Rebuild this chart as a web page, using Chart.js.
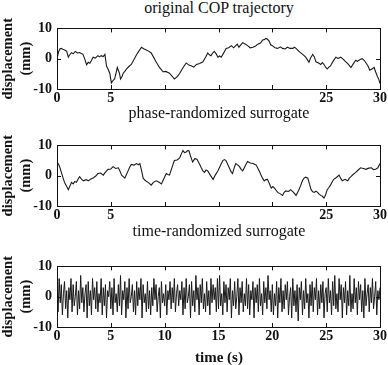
<!DOCTYPE html>
<html>
<head>
<meta charset="utf-8">
<script src="https://cdn.jsdelivr.net/npm/chart.js@4.4.1/dist/chart.umd.min.js"></script>
<style>
    body { margin: 0; background: #fff; width: 388px; height: 365px; position: relative; overflow: hidden; font-family: "Liberation Serif", serif; color: #111; }
    .panel { position: absolute; left: 0; width: 388px; height: 90px; }
    .title { position: absolute; left: 57px; width: 324px; text-align: center; font-size: 16px; line-height: 16px; }
</style>
</head>
<body>
<div class="title" style="top:0px">original COP trajectory</div>
<div class="panel" style="top:15px"><canvas id="c1" width="388" height="90"></canvas></div>
<div class="title" style="top:105px">phase-randomized surrogate</div>
<div class="panel" style="top:132px"><canvas id="c2" width="388" height="90"></canvas></div>
<div class="title" style="top:223px">time-randomized surrogate</div>
<div class="panel" style="top:253px"><canvas id="c3" width="388" height="90"></canvas></div>
<div class="title" style="top:349px;font-weight:bold;font-size:15px">time (s)</div>
<script>
// ---- data ----
const xTicks = [0, 5, 10, 15, 20, 25, 30]
const xLabelsTop = ['0', '5', '', '', '', '25', '30']
const xLabelsAll = ['0', '5', '10', '15', '20', '25', '30']
const yTicks = [-10, 0, 10]

// original COP trajectory (s, mm)
const origT = [0, 0.14, 0.28, 0.4, 0.6, 0.75, 0.9, 1.05, 1.2, 1.35, 1.5, 1.7, 1.9, 2.1, 2.25, 2.4, 2.55, 2.75, 2.9, 3.05, 3.2, 3.35, 3.55, 3.8, 3.95, 4.1, 4.3, 4.45, 4.6, 4.75, 4.9, 5.05, 5.2, 5.35, 5.5, 5.6, 5.8, 5.9, 6.05, 6.15, 6.3, 6.45, 6.7, 6.9, 7.15, 7.4, 7.6, 7.85, 8.05, 8.3, 8.5, 8.75, 8.95, 9.2, 9.5, 9.85, 10.1, 10.45, 10.7, 10.9, 11.15, 11.4, 11.7, 12, 12.25, 12.5, 12.7, 12.95, 13.25, 13.55, 13.8, 14, 14.15, 14.3, 14.45, 14.6, 14.8, 14.95, 15.1, 15.25, 15.5, 15.7, 15.95, 16.2, 16.4, 16.6, 16.75, 16.9, 17.05, 17.25, 17.5, 17.7, 17.95, 18.2, 18.45, 18.65, 18.9, 19.1, 19.25, 19.4, 19.55, 19.7, 19.85, 20, 20.25, 20.5, 20.75, 20.95, 21.2, 21.4, 21.65, 21.9, 22.05, 22.2, 22.45, 22.65, 22.9, 23.1, 23.25, 23.4, 23.55, 23.75, 23.9, 24.05, 24.3, 24.5, 24.65, 24.8, 24.95, 25.1, 25.25, 25.4, 25.65, 25.9, 26.1, 26.35, 26.6, 26.8, 27.05, 27.3, 27.5, 27.75, 27.9, 28.05, 28.2, 28.35, 28.55, 28.7, 28.9, 29.05, 29.25, 29.45, 29.6, 29.75, 29.9, 30]
const origY = [0, 2.2, 3.3, 3.4, 3.0, 2.8, 2.4, 0.5, 1.4, 2, 1.6, 2.4, 1.9, 2, 1.7, 1.5, 0.2, -2, -1.2, -1.5, -0.6, 0.5, 0.2, 1, 0.6, 1, 0.7, 1.4, -2.4, -3.5, -4.8, -8, -7.2, -6.7, -4.5, -2.9, -4.8, -6.7, -5.8, -4.8, -4.2, -3.4, -2.5, -1.9, -0.3, 1.4, 2.5, 3.8, 3.3, 2.9, 2.5, 1.9, 0.6, -1, -2.8, -4.3, -4.2, -4.8, -5.8, -6.7, -6, -4.8, -3, -1.4, -2.1, -2.4, -2.8, -1.9, -1.6, -1, 0.5, 1.9, 1.3, 1, 1.8, 2.4, 1.5, 0.5, 0.9, 0.5, 2, 3.4, 3.6, 4.3, 3.6, 4.3, 4.8, 3.8, 4.5, 5.3, 4.8, 4.3, 3.6, 3.8, 4.2, 4.8, 5.2, 6.2, 6.3, 6.7, 6.4, 5.8, 4.6, 4.3, 3.6, 3.4, 3.9, 3.4, 3.2, 3.8, 3.4, 3.4, 3.8, 3.4, 2.5, 1.9, 1.2, 0.5, -0.3, -1.2, 0.2, 1.4, 0.6, -1, -1.4, -1.9, -1.3, -1.9, -2.8, -3.4, -2.8, -2.4, -0.8, 0.5, 0.1, 0.5, -0.2, -1, -1.8, -2.9, -1.8, -0.5, -0.9, -0.5, -0.2, 0, -0.6, -1.4, -2.5, -3.8, -3.4, -2.9, -4.4, -5.8, -6.9, -8.2]

// phase-randomized surrogate (s, mm)
const phaseT = [0, 0.15, 0.28, 0.45, 0.6, 0.75, 0.9, 1.05, 1.2, 1.35, 1.5, 1.65, 1.8, 1.95, 2.1, 2.3, 2.45, 2.7, 2.9, 3.1, 3.35, 3.6, 3.8, 4.05, 4.3, 4.5, 4.75, 5, 5.2, 5.45, 5.7, 5.85, 6, 6.15, 6.3, 6.45, 6.6, 6.75, 6.9, 7.15, 7.4, 7.55, 7.7, 7.85, 8, 8.2, 8.45, 8.6, 8.75, 8.95, 9.2, 9.45, 9.7, 9.9, 10.15, 10.3, 10.45, 10.7, 10.9, 11.15, 11.4, 11.55, 11.7, 11.85, 12, 12.1, 12.25, 12.4, 12.6, 12.8, 13, 13.2, 13.4, 13.55, 13.7, 13.85, 14, 14.25, 14.5, 14.7, 14.95, 15.2, 15.4, 15.55, 15.7, 15.85, 16, 16.15, 16.3, 16.45, 16.6, 16.8, 16.95, 17.1, 17.25, 17.5, 17.7, 17.95, 18.2, 18.35, 18.5, 18.75, 18.95, 19.1, 19.25, 19.4, 19.55, 19.75, 19.9, 20.05, 20.2, 20.35, 20.5, 20.75, 20.95, 21.1, 21.25, 21.5, 21.7, 21.95, 22.2, 22.45, 22.65, 22.8, 22.95, 23.1, 23.3, 23.45, 23.6, 23.75, 23.9, 24.05, 24.2, 24.35, 24.5, 24.65, 24.8, 24.95, 25.1, 25.25, 25.4, 25.55, 25.7, 25.95, 26.2, 26.35, 26.5, 26.75, 27, 27.15, 27.3, 27.5, 27.75, 27.95, 28.2, 28.45, 28.7, 28.95, 29.2, 29.4, 29.6, 29.8, 30]
const phaseY = [4.5, 3.8, 2.6, 0.6, -1.2, -2.6, -3.6, -4.6, -3.4, -2.2, -2.7, -1.9, -2.2, -1.2, -0.3, -1.2, -1.7, -1.3, -1.7, -1.2, -0.8, -0.1, 0.7, 0.9, 0.2, 1.2, 2.1, 2.2, 3, 2.4, 2.6, 1.5, 0.2, -0.3, -0.8, 0.4, 1.6, 2.8, 3.7, 3.5, 4, 3.6, 4, 1.8, -0.8, -1.6, -2.2, -2.6, -3.1, -2.2, -1.7, -2.1, -2.7, -1.2, 0.7, 0.4, 0.2, 2.9, 5, 5.2, 5.9, 7.2, 8.3, 7.6, 7.8, 8.2, 8.3, 6.5, 4.5, 5.6, 5.4, 4.1, 2.6, 1.6, 1.1, 1.9, 1.6, 0.1, -1.2, 0.2, 1.6, 3.5, 5, 5.3, 5, 3.8, 2.6, 1.4, 0.7, 2.5, 4, 3.5, 3, 2.1, 1.6, 3.4, 4.7, 4.2, 4, 3.8, 3.5, 1.8, 0.2, -0.9, -1.7, -1.3, -1.2, -2.8, -4.1, -3.6, -4.1, -4.8, -5.5, -6, -6.5, -5.5, -5, -5.2, -4.6, -5.4, -6.5, -4.8, -3.1, -1.6, -0.8, -0.5, -0.8, -2.8, -4.6, -5.3, -5.5, -5.1, -5.5, -6.1, -6.5, -6.8, -7.4, -6.3, -4.6, -3.9, -3.1, -2.1, -1.2, -0.6, 0.2, -0.9, -1.7, -1.2, -1.7, -0.8, -0.3, 0.4, 1.1, 1.8, 2.6, 2.4, 2.1, 2.5, 2.6, 2.0, 2.1, 2.6, 4]

// time-randomized surrogate, sampled every 0.1 s (mm)
const shuffleDt = 0.1
const shuffleY = [
    3, -5, 6, -2, 4, -6, 1, 5, -4, 2, -7, 3, -1, 6, -5, 4, -3, 0, 5, -6, 2, -4, 7, -2, 3, -5, 1, 4, -7, 5, -3, 2, -6, 6, -1, 3, -4, 5, -5, 1, -2, 6, -6, 3, -3, 4, -7, 2, 0, 5,
    -4, 3, -6, 6, -2, 1, -5, 4, -3, 7, -6, 2, -1, 5, -7, 3, -4, 6, -2, 0, 4, -5, 2, -6, 5, -3, 3, -1, 6, -7, 4, -2, 1, -5, 5, -4, 2, -6, 3, -3, 6, -1, 4, -5, 0, 3, -7, 5, -2, 1,
    -3, 4, -6, 2, -1, 5, -4, 3, -2, 6, -5, 1, 4, -3, 2, -1, 5, -6, 3, -4, 6, -2, 0, 4, -7, 5, -3, 2, -5, 7, -1, 3, -6, 4, -2, 6, -4, 1, -5, 5, -3, 2, -6, 6, -2, 4, -1, 3, -5, 6,
    -4, 7, -3, 1, -6, 5, -2, 4, -5, 3, -1, 6, -7, 2, -3, 5, -4, 0, 6, -6, 3, -2, 5, -5, 1, -3, 6, -4, 4, -6, 2, -1, 5, -7, 3, -2, 4, -5, 6, -3, 1, -6, 5, -2, 3, -4, 7, -1, 2, -5,
    4, -6, 1, -3, 5, -7, 3, -2, 6, -5, 2, -4, 4, -1, 5, -6, 0, 3, -7, 6, -3, 2, -5, 4, -8, 3, -1, 5, -6, 2, -4, 6, -2, 1, -7, 4, -3, 5, -5, 3, -1, 6, -6, 2, -4, 4, -2, 5, -7, 1,
    3, -5, 6, -2, 2, -6, 5, -3, 7, -4, 1, -5, 6, -1, 4, -7, 3, -2, 5, -6, 2, -3, 7, -5, 1, -4, 6, -2, 3, -6, 5, -1, 4, -5, 2, -7, 6, -3, 1, 4, -5, 3, -2, 6, -4, 0, 5, -6, 2, -1, 3
]

const tickFont = { family: '"Liberation Serif", serif', size: 14, weight: 'bold' }

// box around the plot plus short inward tick marks, like the original figure
const framePlugin = {
    id: 'frame',
    afterDraw(chart) {
        const ctx = chart.ctx
        const a = chart.chartArea
        const xs = chart.scales.x
        const ys = chart.scales.y
        ctx.save()
        ctx.strokeStyle = '#111'
        ctx.lineWidth = 1
        ctx.strokeRect(Math.round(a.left) + 0.5, Math.round(a.top) + 0.5, Math.round(a.right - a.left), Math.round(a.bottom - a.top))
        ctx.beginPath()
        xTicks.forEach(v => {
            const px = Math.round(xs.getPixelForValue(v)) + 0.5
            ctx.moveTo(px, a.top); ctx.lineTo(px, a.top + 4)
            ctx.moveTo(px, a.bottom); ctx.lineTo(px, a.bottom - 4)
        })
        yTicks.forEach(v => {
            const py = Math.round(ys.getPixelForValue(v)) + 0.5
            ctx.moveTo(a.left, py); ctx.lineTo(a.left + 4, py)
            ctx.moveTo(a.right, py); ctx.lineTo(a.right - 4, py)
        })
        ctx.stroke()
        ctx.restore()
    }
}

function makePanel(canvasId, points, xLabels, lineWidth) {
    const ctx = document.getElementById(canvasId).getContext('2d')
    return new Chart(ctx, {
        type: 'line',
        data: {
            datasets: [{
                data: points,
                borderColor: '#1a1a1a',
                borderWidth: lineWidth,
                pointRadius: 0,
                tension: 0,
                fill: false
            }]
        },
        options: {
            responsive: false,
            animation: false,
            layout: { padding: { top: 5, right: 7, left: 0, bottom: 0 } },
            plugins: { legend: { display: false }, tooltip: { enabled: false } },
            scales: {
                x: {
                    type: 'linear',
                    min: 0,
                    max: 30,
                    afterBuildTicks: scale => { scale.ticks = xTicks.map(v => ({ value: v })) },
                    afterFit: scale => { scale.height = 16 },
                    ticks: {
                        color: '#111',
                        font: tickFont,
                        padding: 1,
                        maxRotation: 0,
                        autoSkip: false,
                        callback: value => xLabels[xTicks.indexOf(value)]
                    },
                    grid: { display: false, drawTicks: false },
                    border: { display: false }
                },
                y: {
                    min: -10,
                    max: 10,
                    afterBuildTicks: scale => { scale.ticks = yTicks.map(v => ({ value: v })) },
                    afterFit: scale => { scale.width = 57 },
                    ticks: { color: '#111', font: tickFont, padding: 5 },
                    grid: { display: false, drawTicks: false },
                    border: { display: false },
                    title: {
                        display: true,
                        text: ['displacement', '(mm)'],
                        color: '#111',
                        font: { family: '"Liberation Serif", serif', size: 14.5, weight: 'bold' },
                        padding: { top: 0, bottom: 0 }
                    }
                }
            }
        },
        plugins: [framePlugin]
    })
}

const origPoints = origT.map((t, i) => ({ x: t, y: origY[i] }))
const phasePoints = phaseT.map((t, i) => ({ x: t, y: phaseY[i] }))
const shufflePoints = shuffleY.map((y, i) => ({ x: i * shuffleDt, y: y }))

makePanel('c1', origPoints, xLabelsTop, 1.1)
makePanel('c2', phasePoints, xLabelsTop, 1.1)
makePanel('c3', shufflePoints, xLabelsAll, 1)
</script>
</body>
</html>
